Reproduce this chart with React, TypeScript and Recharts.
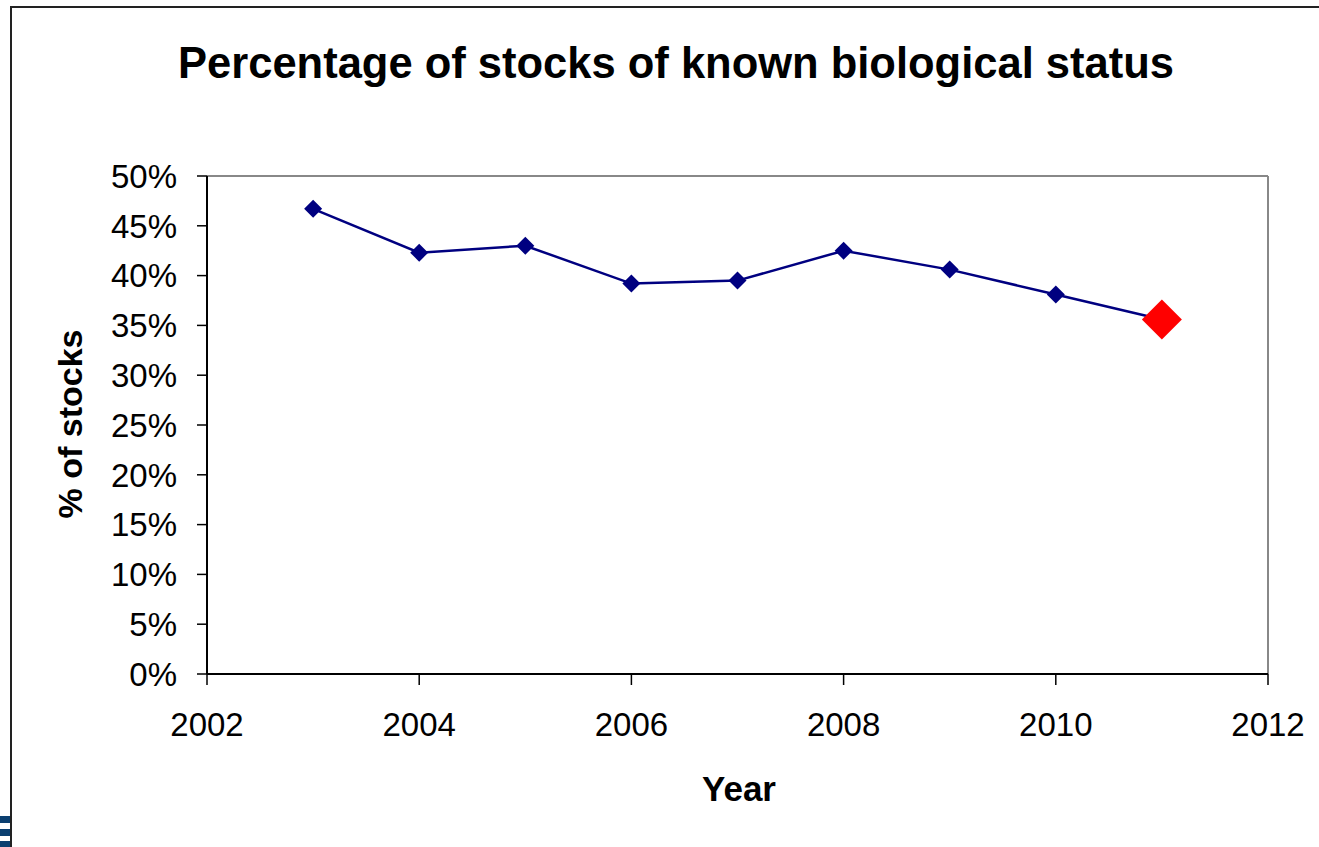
import {
  LineChart,
  Line,
  XAxis,
  YAxis,
  ReferenceLine,
  Label,
} from "recharts";

// survey years and share of stocks with known status (%)
const years = [2003, 2004, 2005, 2006, 2007, 2008, 2009, 2010, 2011];
const knownPct = [46.7, 42.3, 43.0, 39.2, 39.5, 42.5, 40.6, 38.1, 35.6];
const xTicks = [2002, 2004, 2006, 2008, 2010, 2012];
const yTicks = [0, 5, 10, 15, 20, 25, 30, 35, 40, 45, 50];

const data = years.map((year, i) => ({ year, pct: knownPct[i] }));

const FONT = "Arial, 'Liberation Sans', sans-serif";

const Diamond = (props: any) => {
  const { cx, cy, index } = props;
  if (cx == null || cy == null) return null;
  const last = index === data.length - 1;
  const r = last ? 20 : 9;
  return (
    <polygon
      key={"d" + index}
      points={`${cx},${cy - r} ${cx + r},${cy} ${cx},${cy + r} ${cx - r},${cy}`}
      fill={last ? "#ff0000" : "#000080"}
    />
  );
};

const YTitle = () => (
  <text
    transform="translate(82,424) rotate(-90)"
    textAnchor="middle"
    fontFamily={FONT}
    fontWeight="bold"
    fontSize={34}
    fill="#000"
  >
    % of stocks
  </text>
);

const XTitle = () => (
  <text
    x={739}
    y={801}
    textAnchor="middle"
    fontFamily={FONT}
    fontWeight="bold"
    fontSize={35}
    fill="#000"
  >
    Year
  </text>
);

export default function App() {
  return (
    <div
      style={{
        position: "absolute",
        left: 0,
        top: 0,
        width: 1319,
        height: 847,
        overflow: "hidden",
        background: "#fff",
      }}
    >
      <div
        style={{
          position: "absolute",
          left: 10,
          top: 6,
          width: 1400,
          height: 1000,
          border: "2px solid #222",
        }}
      />
      {/* logo fragment bottom-left */}
      <div style={{ position: "absolute", left: 0, top: 816, width: 10, height: 7, background: "#0b3f70" }} />
      <div style={{ position: "absolute", left: 0, top: 829, width: 10, height: 7, background: "#0b3f70" }} />
      <div style={{ position: "absolute", left: 0, top: 841, width: 10, height: 6, background: "#0b3f70" }} />
      <div
        style={{
          position: "absolute",
          left: 0,
          top: 43,
          width: 1352,
          textAlign: "center",
          fontFamily: FONT,
          fontWeight: "bold",
          fontSize: 43.5,
          lineHeight: "40px",
          color: "#000",
        }}
      >
        Percentage of stocks of known biological status
      </div>
      <div style={{ position: "absolute", left: 0, top: 0 }}>
        <LineChart
          width={1319}
          height={847}
          data={data}
          margin={{ top: 176, right: 51, left: 147, bottom: 113 }}
        >
          <XAxis
            dataKey="year"
            type="number"
            domain={[2002, 2012]}
            ticks={xTicks}
            height={60}
            axisLine={{ stroke: "#000", strokeWidth: 2 }}
            tickLine={{ stroke: "#000", strokeWidth: 1.5 }}
            tickSize={11}
            tickMargin={28}
            tick={{ fill: "#000", fontSize: 33, fontFamily: FONT }}
          >
            <Label content={<XTitle />} />
          </XAxis>
          <YAxis
            domain={[0, 50]}
            ticks={yTicks}
            width={60}
            axisLine={{ stroke: "#000", strokeWidth: 2 }}
            tickLine={{ stroke: "#000", strokeWidth: 1.5 }}
            tickSize={10}
            tickMargin={20}
            tickFormatter={(v: number) => `${v}%`}
            tick={{ fill: "#000", fontSize: 33, fontFamily: FONT }}
          >
            <Label content={<YTitle />} />
          </YAxis>
          <ReferenceLine y={50} stroke="#888" strokeWidth={2} />
          <ReferenceLine x={2012} stroke="#888" strokeWidth={2} />
          <Line
            dataKey="pct"
            stroke="#000080"
            strokeWidth={2.5}
            dot={<Diamond />}
            activeDot={false}
            isAnimationActive={false}
          />
        </LineChart>
      </div>
    </div>
  );
}
